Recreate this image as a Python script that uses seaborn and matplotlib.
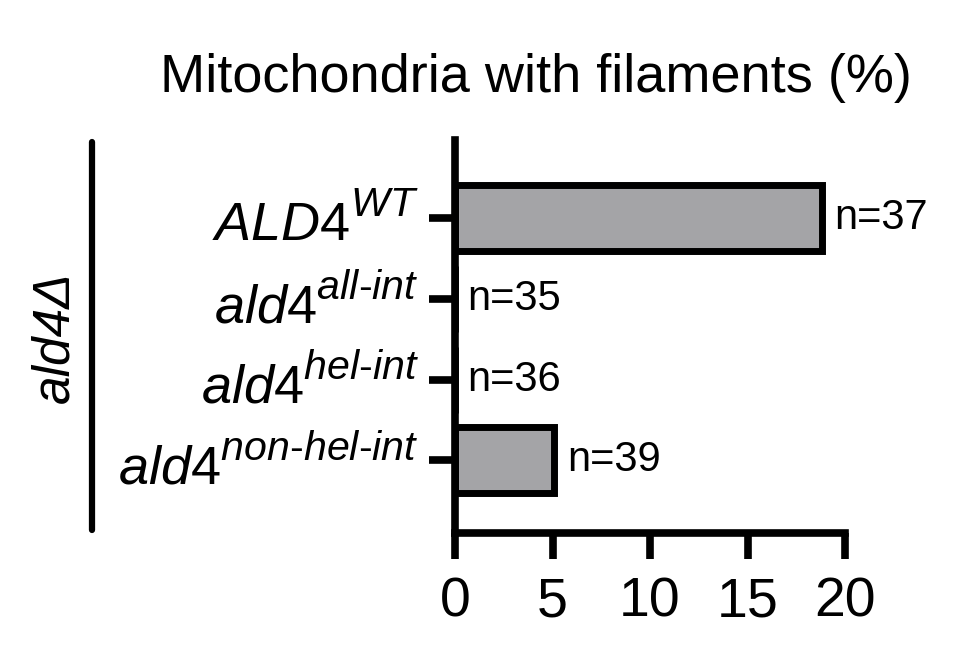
import seaborn as sns
import matplotlib.pyplot as plt
import matplotlib._mathtext as mathtext_internals
import pandas as pd
from matplotlib.lines import Line2D

# values
strains = ['ALD4', 'ald4', 'ald4', 'ald4']
alleles = ['WT', 'all‐int', 'hel‐int', 'non‐hel‐int']
pct_filaments = [18.8, 0.0, 0.0, 5.1]
n_cells = [37, 35, 36, 39]
xticks = [0, 5, 10, 15, 20]

labels = [r'$\mathit{%s}^{\mathit{%s}}$' % (s, a) for s, a in zip(strains, alleles)]
df = pd.DataFrame({'label': labels, 'pct': pct_filaments, 'n': n_cells})

# superscripts in the original are a bit bigger and higher than mathtext's default
mathtext_internals.SHRINK_FACTOR = 0.76
mathtext_internals.FontConstantsBase.sup1 = 0.87

sns.set_style('ticks')
plt.rcParams['font.family'] = ['Liberation Sans', 'DejaVu Sans']
plt.rcParams['mathtext.fontset'] = 'custom'
plt.rcParams['mathtext.it'] = 'Liberation Sans:italic'
plt.rcParams['mathtext.rm'] = 'Liberation Sans'
plt.rcParams['text.color'] = 'black'
plt.rcParams['axes.edgecolor'] = 'black'
plt.rcParams['xtick.color'] = 'black'
plt.rcParams['ytick.color'] = 'black'

fig = plt.figure(figsize=(9.61, 6.67), dpi=100)
ax = fig.add_axes([455 / 961, 1 - 533 / 667, 390 / 961, 393 / 667])
sns.barplot(data=df, x='pct', y='label', orient='h', color='#a4a4a7',
            saturation=1, edgecolor='black', linewidth=5, width=0.82,
            errorbar=None, ax=ax)

ax.set_xlim(0, 20)
ax.set_ylim(3.9, -0.97)
ax.set_xticks(xticks)
ax.set_xlabel('')
ax.set_ylabel('')
sns.despine(ax=ax)
for side in ['left', 'bottom']:
    ax.spines[side].set_linewidth(5.5)
ax.tick_params(width=5.5, length=19)
ax.tick_params(axis='x', labelsize=40, pad=12)
ax.tick_params(axis='y', labelsize=39, pad=7)

# n labels next to each bar
for i, (v, n) in enumerate(zip(pct_filaments, n_cells)):
    ax.annotate(f'n={n}', (v, i), xytext=(9, 0), textcoords='offset points',
                va='center', ha='left', fontsize=30)

fig.text(536 / 961, 1 - 78 / 667, 'Mitochondria with filaments (%)',
         ha='center', va='center', fontsize=39)

# group bracket on the left
fig.add_artist(Line2D([92 / 961, 92 / 961], [1 - 142 / 667, 1 - 530 / 667],
                      transform=fig.transFigure, lw=4.5, color='black'))
fig.text(55 / 961, 1 - 337 / 667, 'ald4Δ', rotation=90, style='italic',
         fontsize=37, ha='center', va='center')

fig.savefig('out.png', dpi=100)
